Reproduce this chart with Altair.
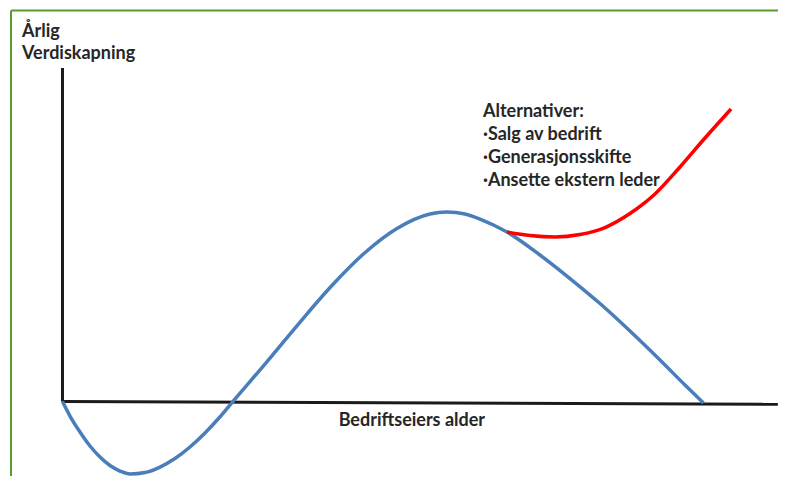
import altair as alt
import pandas as pd

# Blue curve: annual value creation over the owner's age (relative units)
blue_x = [0, 1.17, 2.73, 4.29, 5.85, 7.41, 8.97, 10.53, 12.87, 15.21, 17.55,
          19.89, 22.23, 24.41, 26.44, 31.59, 36.74, 41.89, 47.04, 52.18, 57.33,
          59.98, 62.79, 65.13, 69.34, 74.49, 79.17, 83.85, 88.53, 93.21, 97.11, 100]
blue_y = [0, -7.67, -16.14, -23.54, -29.37, -33.86, -36.77, -38.36, -37.57, -34.66, -30.16,
          -24.07, -16.67, -8.73, -0.53, 19.84, 40.74, 60.85, 78.31, 91.53, 99.21,
          100.26, 99.21, 96.56, 89.68, 77.51, 65.08, 51.85, 37.30, 21.96, 8.73, -0.79]

# Red curve: alternatives
red_x = [69.34, 72.93, 76.83, 80.73, 84.63, 88.53, 92.43, 96.33, 100.23, 104.29]
red_y = [89.68, 87.83, 87.04, 88.36, 92.06, 99.47, 109.79, 124.07, 139.42, 154.76]

# Axis lines (start x, end x, start y, end y)
axis_x = [0, 0]
axis_x2 = [0, 111.6]
axis_y = [0, 0]
axis_y2 = [176.5, -1.5]

# Frame lines (green)
frame_x = [-8.03, -8.03]
frame_x2 = [-8.03, 111.62]
frame_y = [206.9, 206.9]
frame_y2 = [-39.4, 206.9]

# Texts
label_text = ["Årlig", "Verdiskapning", "Alternativer:", "·Salg av bedrift",
              "·Generasjonsskifte", "·Ansette ekstern leder"]
label_x = [-6.32, -6.32, 65.6, 65.6, 65.6, 65.6]
label_y = [192.9, 181.2, 150.5, 138.4, 126.2, 114.0]
xlabel_text = ["Bedriftseiers alder"]
xlabel_x = [54.5]
xlabel_y = [-13.0]

X_DOMAIN = [-8.5, 111.62]
Y_DOMAIN = [-39.4, 208.2]

def xs(field):
    return alt.X(field, type="quantitative", scale=alt.Scale(domain=X_DOMAIN, nice=False, zero=False), axis=None)

def ys(field):
    return alt.Y(field, type="quantitative", scale=alt.Scale(domain=Y_DOMAIN, nice=False, zero=False), axis=None)

blue_df = pd.DataFrame({"x": blue_x, "y": blue_y})
red_df = pd.DataFrame({"x": red_x, "y": red_y})
axis_df = pd.DataFrame({"x": axis_x, "x2": axis_x2, "y": axis_y, "y2": axis_y2})
frame_df = pd.DataFrame({"x": frame_x, "x2": frame_x2, "y": frame_y, "y2": frame_y2})
label_df = pd.DataFrame({"x": label_x, "y": label_y, "t": label_text})
xlabel_df = pd.DataFrame({"x": xlabel_x, "y": xlabel_y, "t": xlabel_text})

frame = alt.Chart(frame_df).mark_rule(color="#5b9a2e", strokeWidth=2).encode(
    x=xs("x"), x2="x2", y=ys("y"), y2="y2")

axes = alt.Chart(axis_df).mark_rule(color="#1a1a1a", strokeWidth=3).encode(
    x=xs("x"), x2="x2", y=ys("y"), y2="y2")

blue = alt.Chart(blue_df).mark_line(color="#4a7ebb", strokeWidth=3.5, interpolate="monotone").encode(
    x=xs("x"), y=ys("y"))

red = alt.Chart(red_df).mark_line(color="#ff0000", strokeWidth=3.5, interpolate="monotone").encode(
    x=xs("x"), y=ys("y"))

labels = alt.Chart(label_df).mark_text(
    align="left", baseline="alphabetic", font="Lato", fontWeight="bold", fontSize=18, color="#262626"
).encode(x=xs("x"), y=ys("y"), text="t:N")

xlabel = alt.Chart(xlabel_df).mark_text(
    align="center", baseline="alphabetic", font="Lato", fontWeight="bold", fontSize=18, color="#262626"
).encode(x=xs("x"), y=ys("y"), text="t:N")

chart = alt.layer(frame, axes, blue, red, labels, xlabel).properties(
    width=770, height=468, padding=0, autosize="none"
).configure_view(stroke=None)

chart.save("out.html", embed_options={"renderer": "svg", "actions": False})
